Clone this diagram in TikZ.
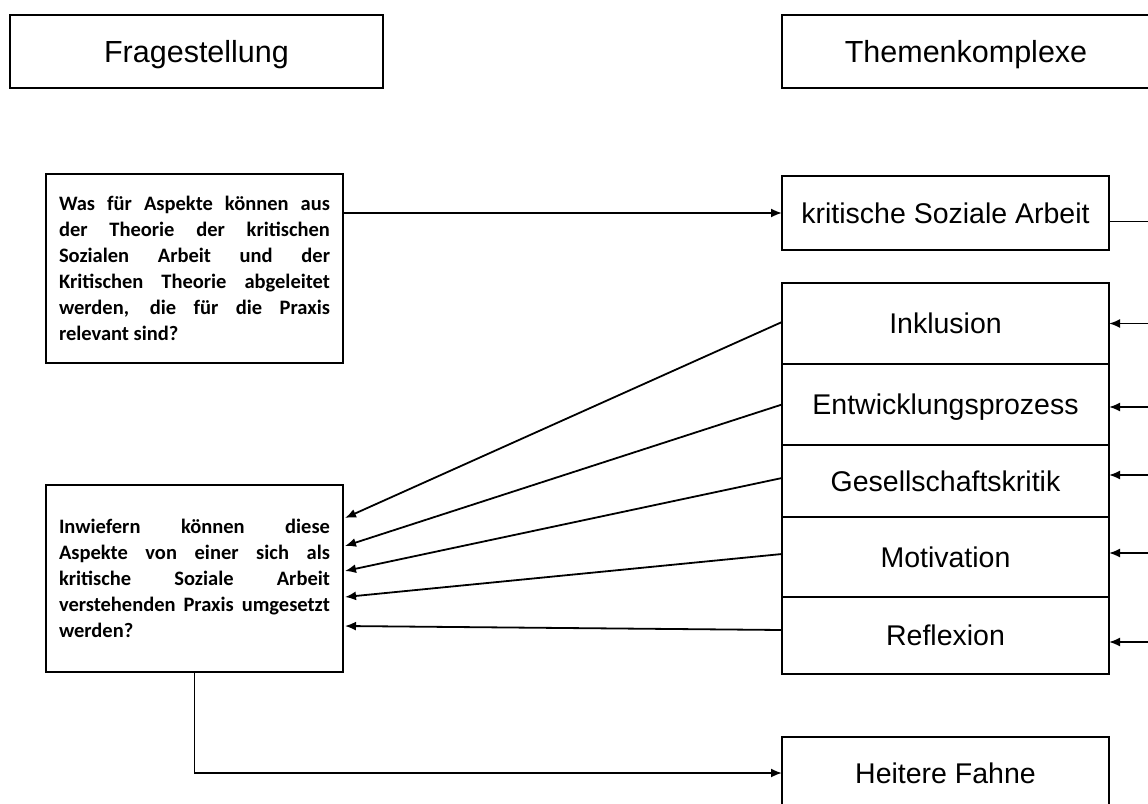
\documentclass[tikz,border=0pt]{standalone}
\usepackage{fontspec}
\setmainfont{Liberation Sans}
\newfontfamily\fragefont{Carlito}
\usetikzlibrary{positioning,arrows.meta}

\tikzset{
  kasten/.style={draw, line width=2pt, outer sep=0pt, inner sep=0pt,
    font=\fontsize{28.5}{34}\selectfont, text height=20.5pt, text depth=0pt},
  kopf/.style={kasten, font=\fontsize{30.5}{36}\selectfont, text height=22pt,
    minimum height=73pt},
  thema/.style={kasten, minimum width=327pt},
  frage/.style={draw, line width=2pt, outer sep=0pt, inner sep=0pt,
    text width=271pt, align=justify, minimum width=297pt,
    font=\fragefont\bfseries\fontsize{20.5}{26}\selectfont},
  pfeil/.style={->, line width=1.8pt}
}

\begin{document}
\begin{tikzpicture}[x=1pt,y=-1pt,>={Latex[length=11pt,width=9pt]}]
  \useasboundingbox (0,0) rectangle (1148,803);
  \clip (0,0) rectangle (1148,803);
  \coordinate (rand) at (1170,0);

  % Kopfzeile
  \node[kopf, minimum width=373pt] (fragestellung) at (196.5,51.5) {Fragestellung};
  \node[kopf, minimum width=368pt] (themen) at (966,51.5) {Themenkomplexe};

  % Fragen
  \node[frage, minimum height=189pt] (q1) at (194.5,268.5)
    {Was für Aspekte können aus\linebreak der Theorie der kritischen\linebreak
     Sozialen Arbeit und der\linebreak Kritischen Theorie abgeleitet\linebreak
     werden, die für die Praxis\linebreak relevant sind?};
  \node[frage, minimum height=187pt] (q2) at (194.5,578.5)
    {Inwiefern können diese\linebreak Aspekte von einer sich als\linebreak
     kritische Soziale Arbeit\linebreak verstehenden Praxis umgesetzt\linebreak
     werden?\par\vspace*{26pt}};

  % Themen
  \node[thema, minimum height=74pt] (ksa) at (945.5,213) {kritische Soziale Arbeit};
  \node[thema, minimum height=81pt] (inkl) at (945.5,323.5) {Inklusion};
  \node[thema, minimum height=81pt, below=0pt of inkl] (entw) {Entwicklungsprozess};
  \node[thema, minimum height=72pt, below=0pt of entw] (gesell) {Gesellschaftskritik};
  \node[thema, minimum height=80pt, below=0pt of gesell] (motiv) {Motivation};
  \node[thema, minimum height=77pt, below=0pt of motiv] (refl) {Reflexion};
  \node[thema, minimum height=72pt] (fahne) at (945.5,773) {Heitere Fahne};

  \draw[pfeil] (q1.east |- ksa.west) -- (ksa.west);
  \draw[line width=1.8pt] ([yshift=-8.5pt]ksa.east) -- ([yshift=-8.5pt]ksa.east -| rand);

  % von rechts
  \draw[pfeil] (inkl.east -| rand) -- (inkl.east);
  \draw[pfeil] ([yshift=-2.5pt]entw.east -| rand) -- ([yshift=-2.5pt]entw.east);
  \draw[pfeil] ([yshift=6pt]gesell.east -| rand) -- ([yshift=6pt]gesell.east);
  \draw[pfeil] ([yshift=4pt]motiv.east -| rand) -- ([yshift=4pt]motiv.east);
  \draw[pfeil] ([yshift=-6.5pt]refl.east -| rand) -- ([yshift=-6.5pt]refl.east);

  % zur zweiten Frage
  \draw[pfeil] ([yshift=1.5pt]inkl.west) -- ([yshift=60.5pt,xshift=2pt]q2.east);
  \draw[pfeil] (entw.west) -- ([yshift=32.5pt,xshift=2pt]q2.east);
  \draw[pfeil] ([yshift=3pt]gesell.west) -- ([yshift=7.5pt,xshift=2pt]q2.east);
  \draw[pfeil] ([yshift=3pt]motiv.west) -- ([yshift=-18.5pt,xshift=2pt]q2.east);
  \draw[pfeil] ([yshift=5.5pt]refl.west) -- ([yshift=-47.5pt,xshift=2pt]q2.east);

  \draw[pfeil] (q2.south) |- (fahne.west);
\end{tikzpicture}
\end{document}
